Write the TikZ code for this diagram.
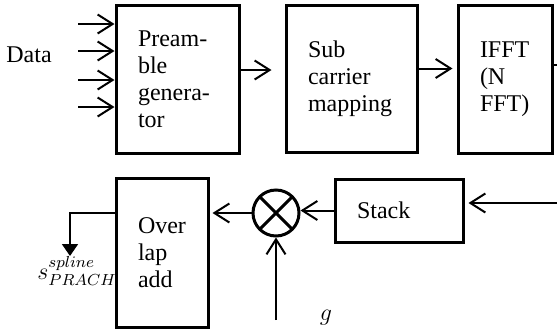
\documentclass[tikz,border=0pt]{standalone}
\usepackage{fontspec}
\setmainfont{Liberation Serif}
\usetikzlibrary{arrows.meta, positioning}

\begin{document}
\begin{tikzpicture}[
    x=0.5pt, y=-0.5pt,
    font=\fontsize{12}{13.5}\selectfont,
    box/.style={draw, line width=1.5pt, align=left, inner xsep=11pt, inner ysep=0pt},
    mixer/.style={draw, circle, line width=1.5pt, minimum size=23pt, inner sep=0pt,
                  path picture={\draw[line width=1.5pt]
                    (path picture bounding box.north west) -- (path picture bounding box.south east)
                    (path picture bounding box.north east) -- (path picture bounding box.south west);}},
    arr/.style={-{Straight Barb[length=7.5pt, width=9.5pt]}, line width=1pt},
    outarr/.style={-{Triangle[length=6pt, width=8pt]}, line width=0.9pt},
  ]
    \clip (0,0) rectangle (557,333);

    \node[box, text width=39.5pt, minimum height=74pt] (pre) at (177.5,79) {Pream-\\ble\\genera-\\tor};
    \node[box, text width=43.5pt, minimum height=73.5pt, right=22pt of pre] (sub) {Sub\\carrier\\mapping};
    \node[box, text width=25pt, minimum height=74pt, right=19pt of sub] (ifft) {IFFT\\(N\\FFT)};

    \node[box, text width=42pt, minimum height=31.5pt] (stack) at (399,210.5) {Stack};
    \node[mixer] (mix) at (276,213) {};
    \node[box, text width=24pt, minimum height=74.5pt] (ovl) at (162,252.5) {Over\\lap\\add};

    \node (data) at (29,55) {Data};
    \foreach \y [count=\i] in {24,51,80,107} {
      \coordinate (in\i) at (78,\y);
      \draw[arr] (in\i) -- (in\i -| pre.west);
    }

    \draw[arr, shorten >=6.5pt] ([yshift=4.5pt]pre.east) -- ([yshift=4.5pt]pre.east -| sub.west);
    \draw[arr, shorten >=2pt] ([yshift=5.25pt]sub.east) -- ([yshift=5.25pt]sub.east -| ifft.west);

    \coordinate (back) at (565,203);
    \draw[line width=1pt] ([yshift=7pt]ifft.east) -| (back);
    \draw[arr, shorten >=2pt] (back) -- (back -| stack.east);
    \draw[arr] (stack.west) -- (stack.west -| mix.east);
    \draw[arr, shorten >=1.5pt] (mix.west) -- (mix.west -| ovl.east);

    \coordinate (gin) at (276,320);
    \draw[arr] (gin) -- (mix.south);
    \node (glbl) at (326,318) {$g$};

    \coordinate (sout) at (70,256);
    \draw[outarr] (mix.west -| ovl.west) -| (sout);
    \node (slbl) at (77,271) {$s_{PRACH}^{spline}$};
  \end{tikzpicture}
\end{document}
